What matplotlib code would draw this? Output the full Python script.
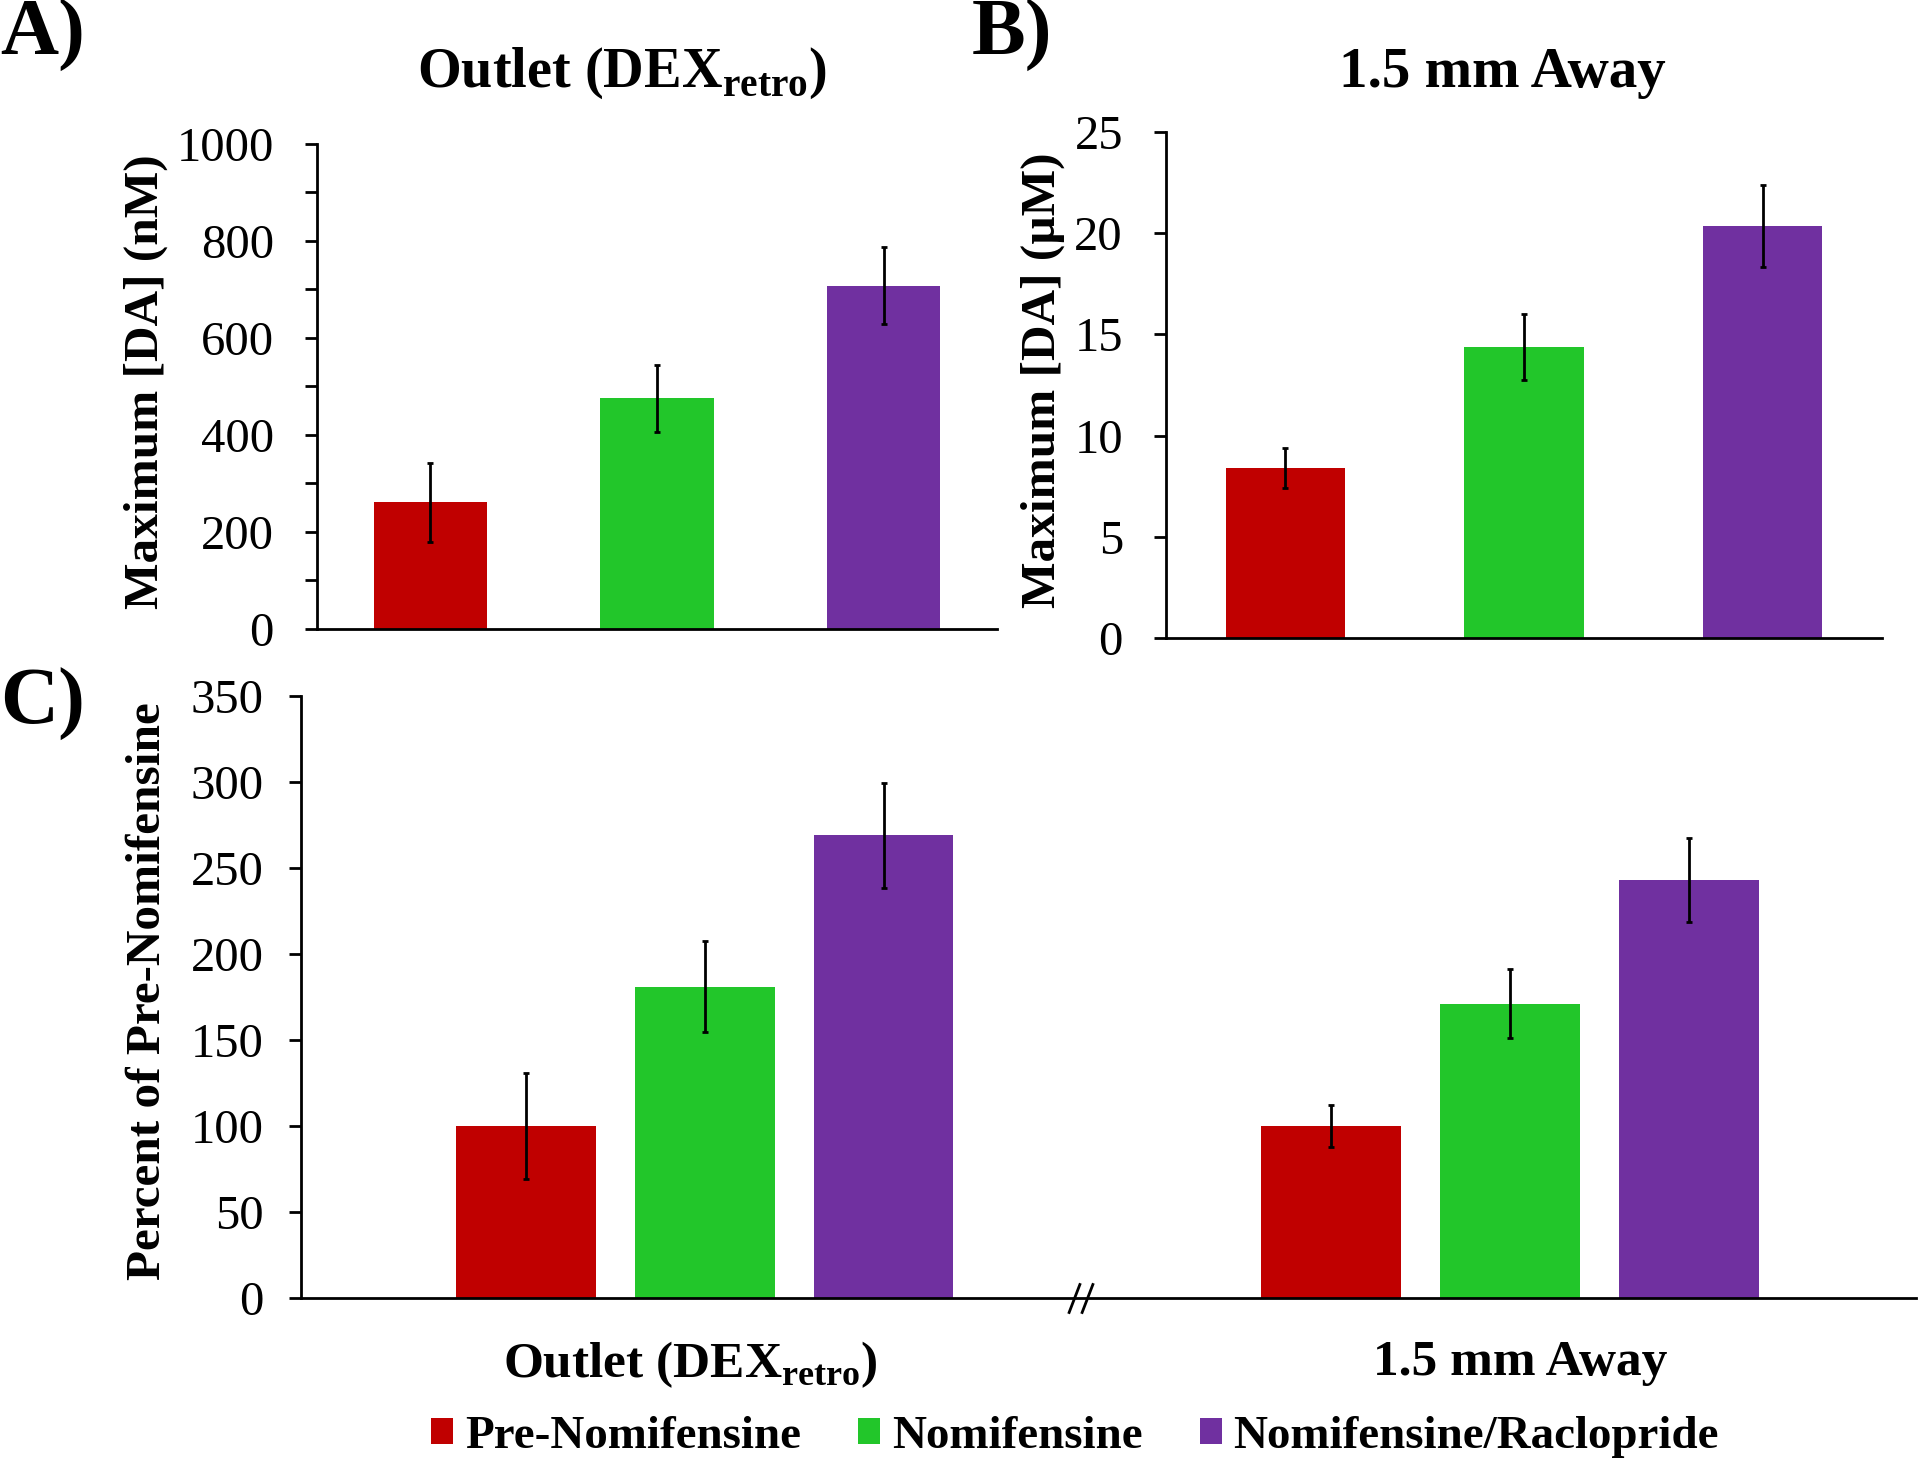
import numpy as np
import matplotlib
matplotlib.use('Agg')
import matplotlib.pyplot as plt
from matplotlib.patches import Patch
from matplotlib.ticker import MultipleLocator

plt.rcParams['font.family'] = ['Liberation Serif', 'DejaVu Serif']
plt.rcParams['mathtext.fontset'] = 'custom'
plt.rcParams['mathtext.rm'] = 'Liberation Serif'
plt.rcParams['mathtext.bf'] = 'Liberation Serif:bold'

## Data
groups = ['Pre-Nomifensine', 'Nomifensine', 'Nomifensine/Raclopride']
colors = ['#C00000', '#22C62A', '#7030A0']
sites = [r'Outlet (DEX$_{\mathbf{retro}}$)', '1.5 mm Away']

outlet_nM = [261, 476, 708]
outlet_nM_err = [82, 69, 79]

away_uM = [8.4, 14.4, 20.35]
away_uM_err = [0.97, 1.63, 2.03]

pct_outlet = [100, 181, 269]
pct_outlet_err = [31, 26.5, 30.5]
pct_away = [100, 171, 243]
pct_away_err = [12, 20, 24.5]

err_kw = dict(ecolor='black', elinewidth=2, capsize=2, capthick=2)


def style(ax):
    ax.spines['top'].set_visible(False)
    ax.spines['right'].set_visible(False)
    ax.spines['left'].set_linewidth(2)
    ax.spines['bottom'].set_linewidth(2)
    ax.tick_params(axis='y', which='both', direction='out', length=9, width=2,
                   labelsize=35, pad=22)
    ax.tick_params(axis='x', length=0)


fig = plt.figure(figsize=(19.2, 14.6), dpi=100)

## Panel A
axA = fig.add_axes([0.1651, 0.5692, 0.3542, 0.3322])
x3 = np.arange(3)
axA.bar(x3, outlet_nM, 0.5, color=colors, yerr=outlet_nM_err, error_kw=err_kw)
axA.set_xlim(-0.5, 2.5)
axA.set_ylim(0, 1000)
axA.yaxis.set_major_locator(MultipleLocator(200))
axA.yaxis.set_minor_locator(MultipleLocator(100))
axA.set_xticks([])
style(axA)
axA.set_ylabel('Maximum [DA] (nM)', fontsize=35.5, fontweight='bold')
axA.yaxis.set_label_coords(-0.219, 0.51)

## Panel B
axB = fig.add_axes([0.6073, 0.5630, 0.3729, 0.3466])
axB.bar(x3, away_uM, 0.5, color=colors, yerr=away_uM_err, error_kw=err_kw)
axB.set_xlim(-0.5, 2.5)
axB.set_ylim(0, 25)
axB.yaxis.set_major_locator(MultipleLocator(5))
axB.set_xticks([])
style(axB)
axB.set_ylabel('Maximum [DA] (µM)', fontsize=35.5, fontweight='bold')
axB.yaxis.set_label_coords(-0.141, 0.51)

## Panel C
axC = fig.add_axes([0.1568, 0.1110, 0.8411, 0.4123])
xo = np.array([0, 1, 2])
xa = xo + 4.5
axC.bar(xo, pct_outlet, 0.78, color=colors, yerr=pct_outlet_err, error_kw=err_kw)
axC.bar(xa, pct_away, 0.78, color=colors, yerr=pct_away_err, error_kw=err_kw)
axC.set_xlim(-1.257, 7.77)
axC.set_ylim(0, 350)
axC.yaxis.set_major_locator(MultipleLocator(50))
style(axC)
axC.tick_params(axis='y', pad=18)
# category labels sit a little off the group centres in the original
axC.set_xticks([0.92, 5.56])
axC.set_xticklabels(sites, fontsize=37, fontweight='bold')
axC.tick_params(axis='x', pad=30)
axC.set_ylabel('Percent of Pre-Nomifensine', fontsize=35.5, fontweight='bold')
axC.yaxis.set_label_coords(-0.081, 0.51)

# axis break mark
break_x = 3.1
axC.plot([break_x - 0.035, break_x + 0.035], [0, 0], ls='none',
         marker=[(-1, -2.6), (1, 2.6)], markersize=22, mec='black', mew=2,
         clip_on=False)

## Titles and panel letters
fig.text(622 / 1920, 1 - 87 / 1460, sites[0], ha='center', va='baseline',
         fontsize=40.5, fontweight='bold')
fig.text(1502 / 1920, 1 - 87 / 1460, sites[1], ha='center', va='baseline',
         fontsize=41, fontweight='bold')
fig.text(0, 1 - 55 / 1460, 'A)', fontsize=58, fontweight='bold', va='baseline')
fig.text(972 / 1920, 1 - 55 / 1460, 'B)', fontsize=58, fontweight='bold', va='baseline')
fig.text(0, 1 - 724 / 1460, 'C)', fontsize=58, fontweight='bold', va='baseline')

## Legend
handles = [Patch(facecolor=c, label=g) for c, g in zip(colors, groups)]
fig.legend(handles=handles, loc='center', bbox_to_anchor=(1075 / 1920, 1 - 1437 / 1460),
           ncol=3, frameon=False, prop=dict(weight='bold', size=33.8),
           handlelength=0.47, handleheight=0.47, handletextpad=0.25,
           columnspacing=1.22)

fig.savefig('out.png', dpi=100)
